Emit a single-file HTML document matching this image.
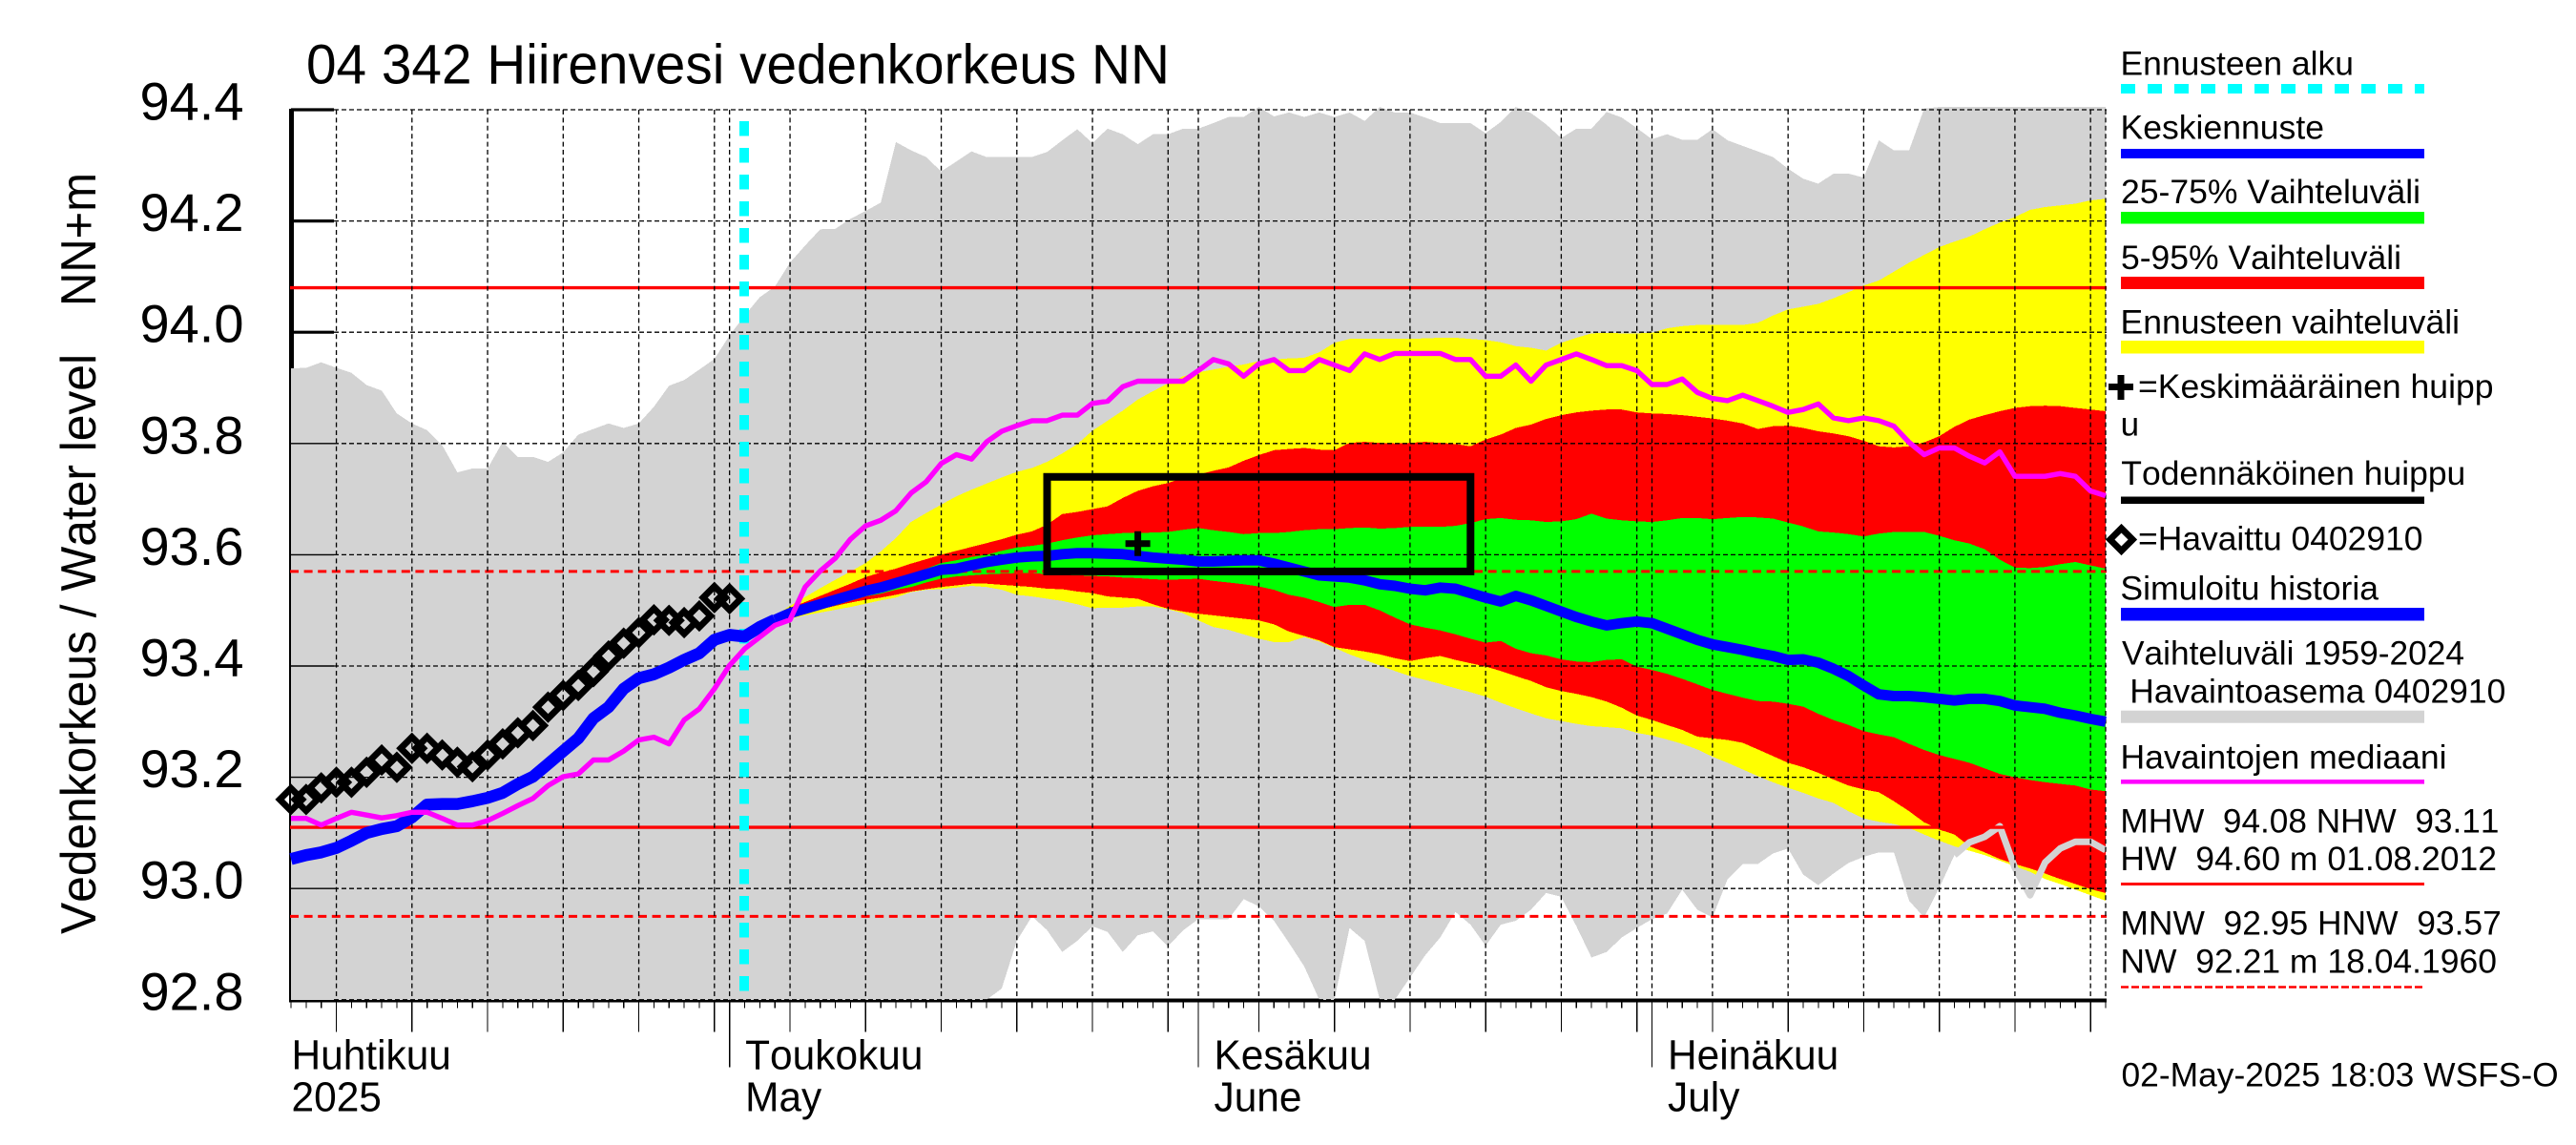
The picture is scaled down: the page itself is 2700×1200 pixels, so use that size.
<!DOCTYPE html>
<html lang="fi">
<head>
<meta charset="utf-8">
<title>04 342 Hiirenvesi vedenkorkeus NN</title>
<style>
html,body{margin:0;padding:0;background:#fff;}
svg{display:block;}
text{font-family:"Liberation Sans",sans-serif;fill:#000;font-kerning:none;}
.leg{font-size:35px;}
</style>
</head>
<body>
<svg id="chart" xmlns="http://www.w3.org/2000/svg" width="2700" height="1200" viewBox="0 0 2700 1200">
<rect x="0" y="0" width="2700" height="1200" fill="#fff"/>
<text x="321" y="87.5" font-size="58" textLength="905" lengthAdjust="spacingAndGlyphs">04 342 Hiirenvesi vedenkorkeus NN</text>
<text transform="translate(100,979) rotate(-90)" font-size="52" textLength="608" lengthAdjust="spacingAndGlyphs">Vedenkorkeus / Water level</text>
<text transform="translate(100,321) rotate(-90)" font-size="52" textLength="140" lengthAdjust="spacingAndGlyphs">NN+m</text>
<g id="plot"></g>

<g>
<g>
<text class="leg" x="2222.5" y="78.5" textLength="244.5" lengthAdjust="spacingAndGlyphs">Ennusteen alku</text>
<line x1="2223" x2="2541" y1="93" y2="93" stroke="#00ffff" stroke-width="10" stroke-dasharray="15 13"/>
</g>
<g>
<text class="leg" x="2222.5" y="145.5" textLength="213.5" lengthAdjust="spacingAndGlyphs">Keskiennuste</text>
<rect x="2223" y="156" width="318" height="10" fill="#0000ff"/>
</g>
<g>
<text class="leg" x="2223" y="213" textLength="314" lengthAdjust="spacingAndGlyphs">25-75% Vaihteluväli</text>
<rect x="2223" y="222" width="318" height="12.5" fill="#00ff00"/>
</g>
<g>
<text class="leg" x="2223" y="282" textLength="294" lengthAdjust="spacingAndGlyphs">5-95% Vaihteluväli</text>
<rect x="2223" y="290" width="318" height="13" fill="#ff0000"/>
</g>
<g>
<text class="leg" x="2222.5" y="349.5" textLength="355.5" lengthAdjust="spacingAndGlyphs">Ennusteen vaihteluväli</text>
<rect x="2223" y="357" width="318" height="13.5" fill="#ffff00"/>
</g>
<g>
<rect x="2210" y="402" width="26" height="7" fill="#000"/>
<rect x="2219.5" y="393" width="7" height="26" fill="#000"/>
<text class="leg" x="2241" y="417" textLength="372.5" lengthAdjust="spacingAndGlyphs">=Keskimääräinen huipp</text>
<text class="leg" x="2222.6" y="456.5">u</text>
</g>
<g>
<text class="leg" x="2223.3" y="508" textLength="361" lengthAdjust="spacingAndGlyphs">Todennäköinen huippu</text>
<rect x="2223" y="520.5" width="318" height="7.5" fill="#000"/>
</g>
<g>
<polygon points="2223.5,553.7 2235.3,565.5 2223.5,577.3 2211.7,565.5" fill="none" stroke="#000" stroke-width="6.8"/>
<text class="leg" x="2241" y="576.5" textLength="298.5" lengthAdjust="spacingAndGlyphs">=Havaittu 0402910</text>
</g>
<g>
<text class="leg" x="2222.4" y="628.5" textLength="270.6" lengthAdjust="spacingAndGlyphs">Simuloitu historia</text>
<rect x="2223" y="637" width="318" height="13.5" fill="#0000ff"/>
</g>
<g>
<text class="leg" x="2224" y="696.5" textLength="359" lengthAdjust="spacingAndGlyphs">Vaihteluväli 1959-2024</text>
<text class="leg" x="2232.3" y="736.5" textLength="394" lengthAdjust="spacingAndGlyphs">Havaintoasema 0402910</text>
<rect x="2223" y="744.7" width="318" height="13" fill="#d3d3d3"/>
</g>
<g>
<text class="leg" x="2222.5" y="805.5" textLength="342" lengthAdjust="spacingAndGlyphs">Havaintojen mediaani</text>
<rect x="2223" y="817" width="318" height="4.6" fill="#ff00ff"/>
</g>
<g>
<text class="leg" x="2222.4" y="872.5" textLength="397" lengthAdjust="spacingAndGlyphs" xml:space="preserve">MHW  94.08 NHW  93.11</text>
<text class="leg" x="2222.4" y="912" textLength="394.6" lengthAdjust="spacingAndGlyphs" xml:space="preserve">HW  94.60 m 01.08.2012</text>
<rect x="2223" y="925" width="318" height="3" fill="#ff0000"/>
</g>
<g>
<text class="leg" x="2222.4" y="979.5" textLength="399.4" lengthAdjust="spacingAndGlyphs" xml:space="preserve">MNW  92.95 HNW  93.57</text>
<text class="leg" x="2222.4" y="1019.5" textLength="394.6" lengthAdjust="spacingAndGlyphs" xml:space="preserve">NW  92.21 m 18.04.1960</text>
<line x1="2223" x2="2541" y1="1034.5" y2="1034.5" stroke="#ff0000" stroke-width="2.5" stroke-dasharray="8 3"/>
</g>
</g>
<text class="leg" x="2223.5" y="1138.5" textLength="458.2" lengthAdjust="spacingAndGlyphs">02-May-2025 18:03 WSFS-O</text>
</svg>

<script>
// Values by day index: index 0 = 2 April 2025, index 120 = 31 July 2025
const yTickValues = [94.4, 94.2, 94.0, 93.8, 93.6, 93.4, 93.2, 93.0, 92.8];
const yTickLabels = ['94.4', '94.2', '94.0', '93.8', '93.6', '93.4', '93.2', '93.0', '92.8'];
const majorTickDays = [3, 8, 13, 18, 23, 28, 33, 38, 43, 48, 53, 58, 64, 69, 74, 79, 84, 89, 94, 99, 104, 109, 114, 119];
const monthStartDays = [29, 60, 90];
const monthLabelDays = [0, 29, 60, 90];
const monthLabels = ['Huhtikuu', 'Toukokuu', 'Kesäkuu', 'Heinäkuu'];
const monthSubLabels = ['2025', 'May', 'June', 'July'];
const lastDay = 120;
const forecastStartDay = 30;
const solidLevels = [94.08, 93.11];
const dashedLevels = [93.57, 92.95];
const peakBoxDays = [50, 78];
const peakBoxLevels = [93.57, 93.74];
const meanPeakDay = 56;
const meanPeakLevel = 93.62;
const grayTailStartDay = 110;
const bandStartDay = 32;

const grayUpper = [
93.935,93.936,93.946,93.936,93.927,93.905,93.895,93.854,93.836,93.824,
93.797,93.748,93.755,93.755,93.803,93.776,93.776,93.767,93.784,93.816,
93.826,93.836,93.828,93.836,93.866,93.904,93.914,93.933,93.952,93.994,
94.03,94.063,94.082,94.125,94.156,94.185,94.186,94.204,94.218,94.233,
94.342,94.327,94.315,94.289,94.307,94.325,94.315,94.315,94.315,94.315,
94.324,94.345,94.365,94.34,94.366,94.356,94.338,94.356,94.356,94.366,
94.366,94.376,94.387,94.387,94.405,94.388,94.395,94.387,94.395,94.387,
94.395,94.38,94.405,94.395,94.395,94.386,94.376,94.376,94.376,94.358,
94.378,94.405,94.394,94.374,94.349,94.366,94.366,94.396,94.386,94.367,
94.347,94.356,94.346,94.346,94.365,94.345,94.335,94.325,94.315,94.294,
94.276,94.267,94.285,94.285,94.278,94.345,94.327,94.327,94.402,94.405,
94.405,94.405,94.405,94.405,94.405,94.405,94.405,94.405,94.405,94.405,94.405];

const grayLower = [
92.8,92.8,92.8,92.8,92.8,92.8,92.8,92.8,92.8,92.8,
92.8,92.8,92.8,92.8,92.8,92.8,92.8,92.8,92.8,92.8,
92.8,92.8,92.8,92.8,92.8,92.8,92.8,92.8,92.8,92.8,
92.8,92.8,92.8,92.8,92.8,92.8,92.8,92.8,92.8,92.8,
92.8,92.8,92.8,92.8,92.8,92.8,92.8,92.82,92.906,92.95,
92.925,92.886,92.906,92.932,92.922,92.886,92.916,92.923,92.896,92.925,
92.945,92.945,92.945,92.981,92.968,92.942,92.902,92.86,92.8,92.8,
92.929,92.906,92.8,92.8,92.84,92.88,92.912,92.958,92.935,92.897,
92.935,92.942,92.962,92.992,92.985,92.932,92.876,92.886,92.912,92.929,
92.945,92.955,92.998,92.962,92.948,93.017,93.044,93.044,93.063,93.072,
93.025,93.006,93.027,93.046,93.057,93.065,93.065,92.978,92.948,93.001,
93.06,93.083,93.093,93.112,93.037,92.988,93.047,93.072,93.084,93.084,93.069];

const medianObserved = [
93.126,93.126,93.114,93.126,93.137,93.132,93.127,93.131,93.137,93.137,
93.126,93.114,93.114,93.122,93.135,93.149,93.162,93.185,93.201,93.206,
93.231,93.231,93.247,93.267,93.272,93.26,93.303,93.323,93.359,93.401,
93.431,93.452,93.473,93.483,93.542,93.571,93.594,93.628,93.652,93.662,
93.679,93.711,93.731,93.764,93.78,93.772,93.803,93.822,93.832,93.841,
93.841,93.851,93.851,93.872,93.876,93.902,93.912,93.912,93.912,93.912,
93.931,93.951,93.943,93.921,93.943,93.951,93.931,93.931,93.951,93.941,
93.931,93.961,93.951,93.962,93.962,93.962,93.962,93.951,93.951,93.921,
93.921,93.941,93.912,93.941,93.951,93.961,93.951,93.94,93.94,93.931,
93.906,93.906,93.916,93.892,93.881,93.877,93.887,93.877,93.867,93.856,
93.861,93.871,93.846,93.841,93.846,93.841,93.831,93.802,93.78,93.792,
93.792,93.777,93.765,93.785,93.741,93.741,93.741,93.746,93.741,93.715,93.706];

const observedLevels = [
93.16,93.16,93.181,93.191,93.191,93.209,93.231,93.218,93.252,93.252,
93.24,93.227,93.219,93.24,93.26,93.28,93.293,93.326,93.347,93.365,
93.39,93.418,93.441,93.46,93.483,93.482,93.478,93.49,93.523,93.521];

const simulatedHistory = [
93.053,93.06,93.065,93.073,93.086,93.1,93.107,93.112,93.128,93.151,
93.152,93.152,93.157,93.163,93.172,93.188,93.201,93.224,93.247,93.27,
93.306,93.326,93.359,93.378,93.385,93.397,93.411,93.423,93.447,93.456,
93.453,93.47,93.483];

// The forecast arrays below start at bandStartDay (index 32) and run to index 120
const medianForecast = [
93.483,93.495,93.503,93.511,93.519,93.527,93.535,93.541,
93.549,93.557,93.565,93.573,93.575,93.581,93.587,93.591,93.595,93.597,
93.598,93.601,93.603,93.603,93.602,93.601,93.598,93.595,93.593,93.591,
93.588,93.588,93.589,93.59,93.59,93.584,93.577,93.57,93.563,93.561,
93.559,93.554,93.547,93.544,93.539,93.536,93.541,93.539,93.531,93.523,
93.516,93.526,93.518,93.508,93.498,93.488,93.48,93.473,93.477,93.48,
93.477,93.467,93.457,93.447,93.439,93.434,93.429,93.423,93.418,93.411,
93.412,93.406,93.395,93.382,93.365,93.349,93.346,93.346,93.344,93.341,
93.338,93.341,93.341,93.337,93.329,93.326,93.323,93.316,93.311,93.305,93.3];

const greenUpper = [
93.484,93.5,93.508,93.516,93.524,93.533,93.542,93.548,
93.554,93.565,93.575,93.585,93.59,93.596,93.6,93.607,93.613,93.616,
93.62,93.626,93.631,93.635,93.637,93.639,93.639,93.64,93.641,93.645,
93.648,93.644,93.641,93.637,93.639,93.639,93.641,93.644,93.646,93.646,
93.648,93.649,93.647,93.648,93.65,93.65,93.65,93.652,93.657,93.664,
93.666,93.663,93.662,93.659,93.66,93.664,93.674,93.665,93.662,93.66,
93.659,93.662,93.666,93.666,93.664,93.666,93.668,93.667,93.665,93.658,
93.651,93.642,93.64,93.637,93.633,93.638,93.641,93.641,93.641,93.634,
93.626,93.62,93.61,93.591,93.577,93.576,93.578,93.583,93.587,93.581,93.575];

const greenLower = [
93.484,93.49,93.497,93.503,93.509,93.517,93.525,93.53,
93.537,93.542,93.55,93.557,93.561,93.563,93.565,93.566,93.567,93.567,
93.565,93.564,93.563,93.562,93.561,93.559,93.558,93.556,93.555,93.556,
93.557,93.553,93.55,93.547,93.543,93.537,93.528,93.523,93.515,93.506,
93.51,93.51,93.5,93.487,93.475,93.469,93.464,93.457,93.449,93.442,
93.445,93.431,93.423,93.419,93.412,93.408,93.407,93.411,93.412,93.399,
93.393,93.386,93.377,93.367,93.357,93.35,93.343,93.337,93.336,93.332,
93.327,93.314,93.303,93.294,93.283,93.277,93.272,93.26,93.249,93.24,
93.233,93.226,93.216,93.206,93.2,93.195,93.191,93.188,93.185,93.178,93.175];

const redUpper = [
93.485,93.505,93.515,93.526,93.537,93.548,93.56,93.568,
93.575,93.584,93.592,93.6,93.607,93.614,93.621,93.628,93.636,93.642,
93.654,93.673,93.677,93.682,93.687,93.702,93.715,93.723,93.729,93.738,
93.744,93.751,93.757,93.769,93.779,93.788,93.79,93.792,93.789,93.788,
93.801,93.803,93.801,93.8,93.801,93.803,93.801,93.799,93.795,93.807,
93.816,93.828,93.834,93.844,93.851,93.856,93.859,93.861,93.861,93.856,
93.854,93.853,93.851,93.848,93.845,93.841,93.836,93.826,93.831,93.832,
93.828,93.822,93.818,93.813,93.805,93.795,93.793,93.795,93.802,93.813,
93.83,93.843,93.851,93.858,93.864,93.867,93.868,93.867,93.864,93.861,93.858];

const redLower = [
93.484,93.491,93.497,93.502,93.508,93.514,93.519,93.523,
93.528,93.534,93.538,93.542,93.545,93.548,93.548,93.546,93.544,93.542,
93.539,93.538,93.534,93.531,93.525,93.523,93.521,93.511,93.503,93.498,
93.494,93.491,93.488,93.485,93.482,93.475,93.462,93.454,93.446,93.434,
93.43,93.426,93.421,93.414,93.409,93.414,93.418,93.411,93.405,93.399,
93.391,93.382,93.373,93.362,93.355,93.35,93.344,93.336,93.325,93.311,
93.303,93.294,93.285,93.273,93.27,93.267,93.262,93.25,93.238,93.226,
93.218,93.208,93.196,93.185,93.178,93.173,93.157,93.139,93.119,93.106,
93.097,93.076,93.065,93.053,93.044,93.036,93.027,93.017,93.008,92.999,92.992];

const yellowUpper = [
93.49,93.508,93.524,93.54,93.555,93.57,93.585,93.606,
93.63,93.659,93.675,93.69,93.705,93.717,93.728,93.739,93.749,93.756,
93.767,93.782,93.799,93.823,93.841,93.859,93.879,93.894,93.908,93.921,
93.928,93.933,93.938,93.942,93.948,93.951,93.953,93.954,93.964,93.981,
93.988,93.988,93.988,93.988,93.988,93.989,93.99,93.99,93.988,93.986,
93.982,93.975,93.972,93.967,93.981,93.99,93.998,93.999,93.998,93.998,
93.999,94.007,94.011,94.013,94.013,94.013,94.013,94.017,94.03,94.041,
94.046,94.051,94.061,94.072,94.084,94.093,94.109,94.125,94.139,94.153,
94.163,94.172,94.185,94.197,94.207,94.22,94.225,94.228,94.231,94.237,94.24];

const yellowLower = [
93.483,93.485,93.491,93.496,93.501,93.506,93.512,93.518,
93.523,93.533,93.537,93.538,93.541,93.544,93.542,93.537,93.528,93.525,
93.521,93.517,93.511,93.504,93.505,93.505,93.507,93.507,93.502,93.495,
93.482,93.47,93.465,93.457,93.449,93.443,93.443,93.452,93.444,93.433,
93.421,93.411,93.401,93.391,93.382,93.375,93.368,93.36,93.353,93.345,
93.334,93.324,93.315,93.306,93.301,93.296,93.292,93.29,93.288,93.28,
93.275,93.268,93.26,93.25,93.237,93.226,93.214,93.202,93.191,93.181,
93.172,93.162,93.154,93.139,93.126,93.12,93.116,93.109,93.097,93.086,
93.076,93.068,93.06,93.05,93.04,93.03,93.017,93.008,92.998,92.988,92.978];

// Axis functions
function xScale(day) { return 305 + day * 15.85; }
function yScale(level) { return 1047.8 - (level - 92.8) * 583; }

const SVG_NS = 'http://www.w3.org/2000/svg';
const plot = document.getElementById('plot');

function make(tag, attrs) {
  const el = document.createElementNS(SVG_NS, tag);
  for (const key in attrs) el.setAttribute(key, attrs[key]);
  plot.appendChild(el);
  return el;
}
function pointList(startDay, values) {
  return values.map(function (v, i) {
    return xScale(startDay + i).toFixed(1) + ',' + yScale(v).toFixed(1);
  });
}
function bandPoints(startDay, upper, lower) {
  return pointList(startDay, upper).concat(pointList(startDay, lower).reverse()).join(' ');
}
function narrowText(node) {
  node.setAttribute('lengthAdjust', 'spacingAndGlyphs');
  node.setAttribute('textLength', (node.getComputedTextLength() * 0.975).toFixed(1));
}

let el;

// Thick axes sit underneath the grey band
el = make('line', { x1: 305.5, x2: 305.5, y1: yScale(94.4) - 1, y2: yScale(92.8), stroke: '#000', 'stroke-width': 5 });


el = make('line', { x1: 303, x2: xScale(lastDay) + 1, y1: yScale(92.8) + 0.7, y2: yScale(92.8) + 0.7, stroke: '#000', 'stroke-width': 4 });



yTickValues.forEach(function (v, i) {
  const tick = make('line', { x1: 305, x2: 350, y1: yScale(v), y2: yScale(v), stroke: '#000', 'stroke-width': 3.2 });
  
  
  const label = make('text', { x: 255.5, y: yScale(v) + 10.5, 'text-anchor': 'end', 'font-size': 56 });
  label.textContent = yTickLabels[i];
  
  
});

// Daily, five-day and month ticks
for (let d = 0; d <= lastDay; d++) {
  const tick = make('line', { x1: xScale(d), x2: xScale(d), y1: yScale(92.8), y2: 1056.7, stroke: '#000', 'stroke-width': 1.2, 'shape-rendering': 'crispEdges' });
  
  
}
majorTickDays.forEach(function (d) {
  const tick = make('line', { x1: xScale(d), x2: xScale(d), y1: yScale(92.8), y2: 1081.7, stroke: '#000', 'stroke-width': 1.2, 'shape-rendering': 'crispEdges' });
  
  
});
monthStartDays.forEach(function (d) {
  const tick = make('line', { x1: xScale(d), x2: xScale(d), y1: yScale(92.8), y2: 1118.5, stroke: '#000', 'stroke-width': 1.2, 'shape-rendering': 'crispEdges' });
  
  
});
monthLabels.forEach(function (name, i) {
  const d = monthLabelDays[i];
  const lx = xScale(d) + (d === 0 ? 0.5 : 16.5);
  const top = make('text', { x: lx, y: 1120.7, 'font-size': 43.5 });
  top.textContent = name;
  narrowText(top);
  
  
  const sub = make('text', { x: lx, y: 1164.5, 'font-size': 43.5 });
  sub.textContent = monthSubLabels[i];
  narrowText(sub);
  
  
});

// Filled ranges
el = make('polygon', { points: bandPoints(0, grayUpper, grayLower), fill: '#d3d3d3', 'shape-rendering': 'crispEdges' });


el = make('polygon', { points: bandPoints(bandStartDay, yellowUpper, yellowLower), fill: '#ffff00', 'shape-rendering': 'crispEdges' });


el = make('polygon', { points: bandPoints(bandStartDay, redUpper, redLower), fill: '#ff0000', 'shape-rendering': 'crispEdges' });


el = make('polygon', { points: bandPoints(bandStartDay, greenUpper, greenLower), fill: '#00ff00', 'shape-rendering': 'crispEdges' });


el = make('polyline', { points: pointList(grayTailStartDay, grayLower.slice(grayTailStartDay)).join(' '), fill: 'none', stroke: '#d3d3d3', 'stroke-width': 7, 'stroke-linejoin': 'round' });



// Thin solid tick remnants on top of the grey area
yTickValues.slice(0, -1).forEach(function (v) {
  const tick = make('line', { x1: 305, x2: 350, y1: yScale(v), y2: yScale(v), stroke: '#000', 'stroke-width': 1.4 });
  
  
});

// Reference levels
solidLevels.forEach(function (v) {
  const line = make('line', { x1: 304, x2: xScale(lastDay) + 1, y1: yScale(v), y2: yScale(v), stroke: '#ff0000', 'stroke-width': 3.4 });
  
  
});
dashedLevels.forEach(function (v) {
  const line = make('line', { x1: 304, x2: xScale(lastDay) + 1, y1: yScale(v), y2: yScale(v), stroke: '#ff0000', 'stroke-width': 3, 'stroke-dasharray': '9 5.6' });
  
  
});

// Dashed grid
yTickValues.forEach(function (v) {
  const line = make('line', { x1: 350, x2: xScale(lastDay) + 1, y1: yScale(v), y2: yScale(v), stroke: '#000', 'stroke-width': 1.3, 'stroke-dasharray': '5 3' });
  
  
});
majorTickDays.concat(monthStartDays, [lastDay]).forEach(function (d) {
  const line = make('line', { x1: xScale(d), x2: xScale(d), y1: yScale(94.4), y2: yScale(92.8), stroke: '#000', 'stroke-width': 1.3, 'stroke-dasharray': '5 3.4' });
  
  
});

// Forecast start marker
el = make('line', { x1: xScale(forecastStartDay) - 0.5, x2: xScale(forecastStartDay) - 0.5, y1: 127, y2: yScale(92.8), stroke: '#00ffff', 'stroke-width': 10, 'stroke-dasharray': '15.5 12.5' });



// Lines
el = make('polyline', { points: pointList(0, simulatedHistory).join(' '), fill: 'none', stroke: '#0000ff', 'stroke-width': 12.5, 'stroke-linejoin': 'round' });


el = make('polyline', { points: pointList(bandStartDay, medianForecast).join(' '), fill: 'none', stroke: '#0000ff', 'stroke-width': 11, 'stroke-linejoin': 'round' });


el = make('polyline', { points: pointList(0, medianObserved).join(' '), fill: 'none', stroke: '#ff00ff', 'stroke-width': 5.4, 'stroke-linejoin': 'round' });



// Observed markers
observedLevels.forEach(function (v, d) {
  const cx = xScale(d);
  const cy = yScale(v);
  const pts = [cx + ',' + (cy - 11.8), (cx + 11.8) + ',' + cy, cx + ',' + (cy + 11.8), (cx - 11.8) + ',' + cy].join(' ');
  const marker = make('polygon', { points: pts, fill: 'none', stroke: '#000', 'stroke-width': 6.8 });
  
  
});

// Probable peak box and mean peak cross
el = make('rect', {
  x: xScale(peakBoxDays[0]),
  y: yScale(peakBoxLevels[1]),
  width: xScale(peakBoxDays[1]) - xScale(peakBoxDays[0]),
  height: yScale(peakBoxLevels[0]) - yScale(peakBoxLevels[1]),
  fill: 'none', stroke: '#000', 'stroke-width': 8
});


el = make('rect', { x: xScale(meanPeakDay) - 13, y: yScale(meanPeakLevel) - 3.5, width: 26, height: 7, fill: '#000' });


el = make('rect', { x: xScale(meanPeakDay) - 3.5, y: yScale(meanPeakLevel) - 13, width: 7, height: 26, fill: '#000' });


</script>
</body>
</html>
